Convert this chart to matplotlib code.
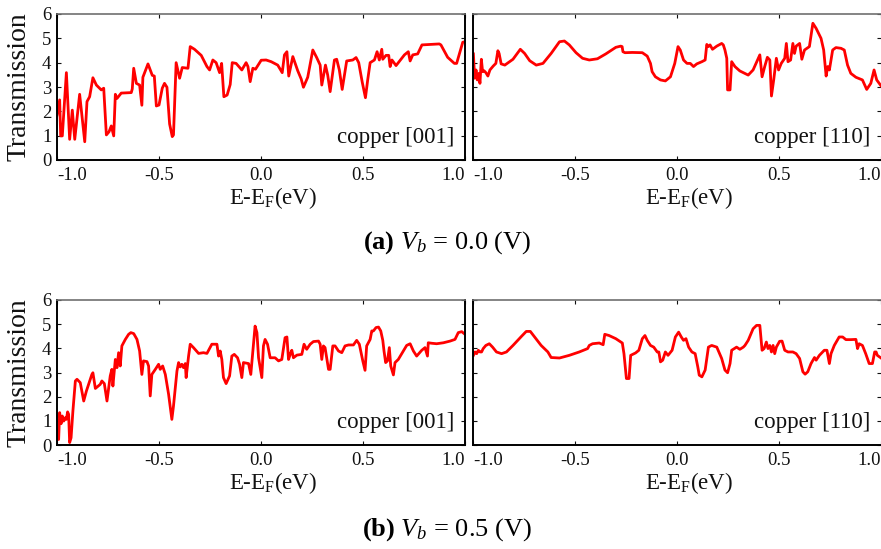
import matplotlib
matplotlib.use("Agg")
import matplotlib.pyplot as plt

plt.rcParams['font.family'] = ['Liberation Serif', 'DejaVu Serif']
plt.rcParams['mathtext.fontset'] = 'custom'
plt.rcParams['mathtext.rm'] = 'Liberation Serif'
plt.rcParams['mathtext.it'] = 'Liberation Serif:italic'
plt.rcParams['mathtext.bf'] = 'Liberation Serif:bold'
plt.rcParams['axes.unicode_minus'] = False

# ---------------- data ----------------
# (a) Vb = 0.0 V, copper [001]
e_a001 = [-1.000, -0.987, -0.982, -0.974, -0.954, -0.938, -0.925, -0.913, -0.889, -0.864, -0.853, -0.840,
          -0.824, -0.807, -0.783, -0.771, -0.758, -0.745, -0.734, -0.722, -0.714, -0.706, -0.685, -0.636,
          -0.631, -0.624, -0.611, -0.595, -0.584, -0.579, -0.554, -0.533, -0.523, -0.513, -0.500, -0.484,
          -0.473, -0.461, -0.448, -0.435, -0.429, -0.416, -0.399, -0.386, -0.358, -0.347, -0.326, -0.293,
          -0.265, -0.252, -0.236, -0.220, -0.203, -0.193, -0.182, -0.166, -0.151, -0.141, -0.122, -0.094,
          -0.073, -0.064, -0.053, -0.040, -0.027, 0.001, 0.025, 0.050, 0.082, 0.104, 0.115, 0.127, 0.136,
          0.156, 0.180, 0.197, 0.208, 0.229, 0.254, 0.273, 0.290, 0.298, 0.316, 0.327, 0.339, 0.360, 0.371,
          0.384, 0.398, 0.420, 0.450, 0.466, 0.479, 0.496, 0.512, 0.523, 0.535, 0.556, 0.569, 0.580, 0.592,
          0.597, 0.613, 0.626, 0.633, 0.642, 0.662, 0.703, 0.722, 0.731, 0.744, 0.768, 0.789, 0.874, 0.882,
          0.915, 0.948, 0.959, 0.989, 1.000]
t_a001 = [1.85, 2.47, 0.99, 0.99, 3.59, 0.85, 2.05, 0.85, 2.70, 0.75, 2.40, 2.60,
          3.38, 3.08, 2.88, 2.95, 1.03, 1.16, 1.40, 0.99, 2.70, 2.53, 2.75, 2.77,
          2.92, 3.77, 3.15, 3.08, 2.25, 3.40, 3.95, 3.48, 3.45, 2.22, 2.26, 2.95,
          3.15, 2.99, 1.48, 0.96, 1.03, 4.00, 3.36, 3.80, 3.77, 4.66, 4.55, 4.30,
          3.84, 3.70, 4.11, 4.00, 3.59, 3.97, 2.60, 2.67, 3.10, 4.00, 3.97, 3.70,
          4.00, 3.84, 3.22, 3.77, 3.73, 4.10, 4.11, 4.04, 3.90, 3.59, 4.32, 4.45, 3.45,
          4.25, 3.67, 3.33, 2.99, 3.40, 4.52, 4.21, 3.90, 3.08, 3.90, 3.49, 2.81, 4.11, 4.14,
          3.70, 2.90, 4.07, 4.11, 4.21, 4.00, 3.21, 2.56, 3.29, 4.00, 4.11, 4.45, 4.11, 4.55,
          4.14, 4.30, 4.30, 3.84, 4.11, 3.88, 4.32, 4.45, 4.07, 4.32, 4.36, 4.73, 4.77, 4.73,
          4.22, 3.97, 3.97, 4.84, 4.86]

# (a) Vb = 0.0 V, copper [110]
e_a110 = [-0.998, -0.992, -0.985, -0.979, -0.971, -0.966, -0.959, -0.953, -0.946, -0.937, -0.927, -0.917,
          -0.901, -0.888, -0.878, -0.872, -0.862, -0.844, -0.804, -0.768, -0.747, -0.722, -0.690, -0.657,
          -0.617, -0.576, -0.552, -0.528, -0.495, -0.463, -0.430, -0.390, -0.349, -0.300, -0.276, -0.269,
          -0.265, -0.255, -0.219, -0.170, -0.146, -0.130, -0.122, -0.106, -0.081, -0.057, -0.032, -0.011,
          0.005, 0.016, 0.032, 0.049, 0.065, 0.081, 0.097, 0.122, 0.138, 0.146, 0.154, 0.162, 0.174, 0.195,
          0.219, 0.227, 0.235, 0.244, 0.248, 0.260, 0.268, 0.284, 0.308, 0.349, 0.373, 0.406, 0.417, 0.430,
          0.443, 0.455, 0.463, 0.474, 0.487, 0.498, 0.511, 0.528, 0.536, 0.544, 0.557, 0.568, 0.576, 0.584,
          0.601, 0.612, 0.625, 0.649, 0.666, 0.682, 0.706, 0.719, 0.731, 0.739, 0.747, 0.763, 0.779, 0.804,
          0.820, 0.836, 0.852, 0.877, 0.909, 0.930, 0.950, 0.966, 0.979, 1.000]
t_a110 = [4.36, 3.36, 3.70, 3.29, 3.56, 3.15, 4.14, 3.63, 3.67, 3.59, 3.45, 3.70,
          3.86, 3.97, 4.49, 4.38, 3.95, 3.90, 4.14, 4.55, 4.38, 4.08, 3.90, 3.97,
          4.38, 4.86, 4.89, 4.73, 4.41, 4.18, 4.11, 4.16, 4.36, 4.63, 4.68, 4.66,
          4.45, 4.41, 4.42, 4.41, 4.27, 3.97, 3.63, 3.42, 3.29, 3.25, 3.42, 3.97,
          4.66, 4.52, 4.11, 3.97, 3.97, 3.84, 3.95, 4.04, 4.11, 4.75, 4.66, 4.73, 4.55, 4.68,
          4.79, 4.73, 4.52, 4.18, 2.88, 2.88, 4.04, 3.84, 3.66, 3.49, 3.70, 4.32, 3.42, 3.84,
          4.22, 4.11, 2.63, 3.29, 4.18, 3.70, 3.97, 4.18, 4.79, 4.04, 4.11, 4.79, 4.38, 4.68,
          4.79, 4.14, 4.52, 4.66, 5.62, 5.41, 5.00, 4.52, 3.45, 3.84, 3.70, 4.52, 4.62, 4.59,
          4.52, 3.90, 3.56, 3.40, 3.29, 2.90, 3.15, 3.70, 3.29, 3.05]

# (b) Vb = 0.5 V, copper [001]
e_b001 = [-1.000, -0.997, -0.992, -0.987, -0.980, -0.974, -0.967, -0.959, -0.954, -0.948, -0.943, -0.938,
          -0.931, -0.922, -0.910, -0.902, -0.886, -0.869, -0.856, -0.845, -0.829, -0.824, -0.812, -0.788,
          -0.780, -0.768, -0.755, -0.739, -0.731, -0.726, -0.714, -0.706, -0.698, -0.690, -0.682, -0.665,
          -0.649, -0.638, -0.624, -0.608, -0.595, -0.584, -0.576, -0.559, -0.551, -0.543, -0.535, -0.518,
          -0.502, -0.494, -0.482, -0.469, -0.453, -0.437, -0.429, -0.412, -0.404, -0.396, -0.388, -0.380,
          -0.371, -0.367, -0.355, -0.347, -0.331, -0.306, -0.282, -0.265, -0.241, -0.216, -0.208, -0.200,
          -0.192, -0.184, -0.171, -0.154, -0.143, -0.131, -0.115, -0.105, -0.094, -0.086, -0.061, -0.050,
          -0.040, -0.029, -0.020, -0.012, 0.004, 0.012, 0.020, 0.032, 0.045, 0.069, 0.086, 0.102, 0.118,
          0.127, 0.135, 0.143, 0.151, 0.159, 0.176, 0.200, 0.211, 0.224, 0.241, 0.257, 0.282, 0.290, 0.298,
          0.306, 0.314, 0.331, 0.339, 0.352, 0.363, 0.380, 0.396, 0.412, 0.429, 0.453, 0.469, 0.482, 0.499,
          0.510, 0.518, 0.535, 0.543, 0.551, 0.564, 0.576, 0.587, 0.597, 0.603, 0.611, 0.620, 0.629, 0.636,
          0.649, 0.657, 0.673, 0.698, 0.714, 0.731, 0.747, 0.763, 0.788, 0.804, 0.816, 0.820, 0.837, 0.861,
          0.894, 0.927, 0.951, 0.967, 0.984, 1.000]
t_b001 = [0.58, 0.23, 0.23, 1.34, 0.88, 1.20, 0.99, 1.13, 1.06, 1.37, 1.27, 0.10,
          0.30, 1.41, 2.65, 2.72, 2.58, 1.82, 2.23, 2.51, 2.92, 2.99, 2.34, 2.51,
          2.65, 2.54, 1.82, 2.86, 3.13, 2.44, 3.54, 3.20, 3.82, 3.27, 4.10, 4.37,
          4.58, 4.65, 4.61, 4.37, 3.89, 2.92, 3.48, 3.45, 3.27, 2.03, 2.92, 3.13,
          3.34, 3.13, 3.27, 2.92, 2.10, 1.06, 1.61, 3.06, 3.41, 3.23, 3.34, 3.20,
          3.37, 2.79, 3.68, 4.17, 4.03, 3.79, 3.82, 3.79, 4.17, 4.17, 3.68, 3.89,
          3.54, 2.79, 2.54, 2.86, 3.68, 3.75, 3.61, 3.34, 2.79, 3.41, 3.37, 2.92,
          3.89, 4.92, 4.65, 3.61, 2.79, 4.10, 4.37, 4.17, 3.61, 3.61, 3.48, 3.54, 4.44,
          4.47, 3.54, 3.75, 3.92, 3.61, 3.72, 3.75, 4.17, 3.96, 4.17, 4.28, 4.30, 4.17, 3.54,
          4.10, 4.03, 3.13, 3.13, 4.10, 4.10, 3.89, 3.82, 4.10, 4.14, 4.14, 4.33, 4.17, 3.48,
          3.09, 4.10, 4.37, 4.72, 4.72, 4.86, 4.88, 4.72, 4.33, 3.89, 3.41, 3.48, 4.03, 3.27,
          2.90, 3.41, 3.54, 3.89, 4.12, 4.19, 3.89, 3.68, 3.92, 4.03, 3.68, 4.23, 4.21, 4.19,
          4.23, 4.30, 4.37, 4.65, 4.69, 4.58]

# (b) Vb = 0.5 V, copper [110]
e_b110 = [-0.998, -0.990, -0.982, -0.974, -0.966, -0.958, -0.950, -0.937, -0.920, -0.904, -0.885, -0.860,
          -0.836, -0.804, -0.763, -0.739, -0.719, -0.698, -0.666, -0.633, -0.617, -0.576, -0.528, -0.479,
          -0.438, -0.430, -0.414, -0.381, -0.362, -0.354, -0.333, -0.300, -0.268, -0.260, -0.248, -0.235,
          -0.227, -0.203, -0.187, -0.170, -0.157, -0.146, -0.130, -0.114, -0.097, -0.089, -0.081, -0.070,
          -0.057, -0.044, -0.024, -0.008, 0.008, 0.021, 0.032, 0.044, 0.057, 0.073, 0.089, 0.102, 0.109,
          0.122, 0.138, 0.154, 0.170, 0.195, 0.219, 0.235, 0.248, 0.260, 0.268, 0.281, 0.292, 0.308, 0.325,
          0.333, 0.349, 0.373, 0.390, 0.406, 0.417, 0.427, 0.438, 0.446, 0.455, 0.463, 0.471, 0.479, 0.487,
          0.503, 0.515, 0.528, 0.544, 0.568, 0.584, 0.601, 0.617, 0.628, 0.641, 0.657, 0.674, 0.682, 0.698,
          0.722, 0.735, 0.747, 0.755, 0.771, 0.795, 0.812, 0.828, 0.852, 0.877, 0.885, 0.893, 0.909, 0.925,
          0.942, 0.958, 0.969, 0.976, 0.982, 1.000]
t_b110 = [3.71, 3.85, 3.78, 3.92, 3.85, 3.85, 3.99, 4.12, 4.19, 4.05, 3.85, 3.78,
          3.85, 4.12, 4.49, 4.70, 4.70, 4.47, 4.12, 3.85, 3.62, 3.60, 3.71, 3.85,
          3.99, 4.12, 4.19, 4.22, 4.15, 4.58, 4.53, 4.40, 4.22, 3.78, 2.75, 2.75,
          3.71, 3.81, 3.92, 4.40, 4.53, 4.33, 4.12, 4.05, 3.85, 3.85, 3.44, 3.51,
          3.85, 3.71, 3.92, 4.47, 4.67, 4.47, 4.33, 4.40, 4.05, 3.85, 3.78, 3.23, 2.89,
          2.82, 3.10, 4.05, 4.12, 4.05, 3.58, 3.10, 2.99, 3.37, 3.92, 3.99, 4.05, 3.96, 4.05,
          4.12, 4.33, 4.81, 4.95, 4.95, 3.92, 3.99, 4.26, 3.99, 4.12, 3.85, 4.12, 3.78, 4.05,
          4.29, 4.30, 3.92, 3.85, 3.85, 3.78, 3.58, 3.03, 2.93, 3.03, 3.37, 3.62, 3.51, 3.71,
          3.92, 3.92, 3.37, 3.78, 4.12, 4.47, 4.47, 4.36, 4.36, 4.37, 3.99, 4.19, 4.12, 3.78,
          3.37, 3.37, 3.85, 3.85, 3.71, 3.60]

xticks = [-1.0, -0.5, 0.0, 0.5, 1.0]
xticklabels = ['-1.0', '-0.5', '0.0', '0.5', '1.0']
yticks = [0, 1, 2, 3, 4, 5, 6]
panel_labels = ['copper [001]', 'copper [110]']
captions = [r'$\mathbf{(a)}$ $V_b$ = 0.0 (V)', r'$\mathbf{(b)}$ $V_b$ = 0.5 (V)']

# ---------------- figure ----------------
W, H = 881, 549
fig = plt.figure(figsize=(W / 100, H / 100), dpi=100)

def frac(l, t, r, b):
    return [l / W, (H - b) / H, (r - l) / W, (b - t) / H]

rows = [
    ((14, 160), [(e_a001, t_a001), (e_a110, t_a110)]),
    ((300, 445), [(e_b001, t_b001), (e_b110, t_b110)]),
]
cols = [(57, 465), (473, 881)]

for ri, ((top, bot), series) in enumerate(rows):
    for ci, (left, right) in enumerate(cols):
        ax = fig.add_axes(frac(left, top, right, bot))
        x, y = series[ci]
        ax.plot(x, y, color='#ff0000', lw=2.0, solid_joinstyle='round')
        ax.set_xlim(-1.0, 1.0)
        ax.set_ylim(0, 6)
        ax.set_xticks(xticks)
        ax.set_xticklabels(xticklabels)
        ax.set_yticks(yticks)
        ax.tick_params(direction='in', length=3, width=0.8, top=True, right=True,
                       labelsize=13.5, pad=5, colors='#111111')
        ax.tick_params(axis='y', pad=4)
        if ci == 1:
            ax.tick_params(axis='y', labelleft=False)
        lbls = ax.get_xticklabels()
        lbls[0].set_ha('left')
        lbls[-1].set_ha('right')
        for s in ['left', 'bottom', 'right']:
            ax.spines[s].set_color('black')
            ax.spines[s].set_linewidth(1.4)
        ax.spines['top'].set_color('#707070')
        ax.spines['top'].set_linewidth(1.2)
        if ci == 1:
            ax.spines['right'].set_visible(False)
        ax.text(0.975, 0.155, panel_labels[ci], transform=ax.transAxes,
                ha='right', va='center', fontsize=16.5, color='#111111')
        ax.set_xlabel(r'E-E$_{\mathrm{F}}$(eV)', fontsize=16.5, labelpad=2, color='#111111')
        ax.xaxis.set_label_coords(0.53, -0.17)
        if ci == 0:
            fig.text(19 / W, 1 - ((top + bot) / 2) / H, 'Transmission', rotation=90,
                     ha='center', va='center', fontsize=20, color='#111111')

fig.text(447 / W, 1 - 243 / H, captions[0], ha='center', va='center', fontsize=19)
fig.text(447 / W, 1 - 530 / H, captions[1], ha='center', va='center', fontsize=19)

fig.savefig('out.png', dpi=100)
